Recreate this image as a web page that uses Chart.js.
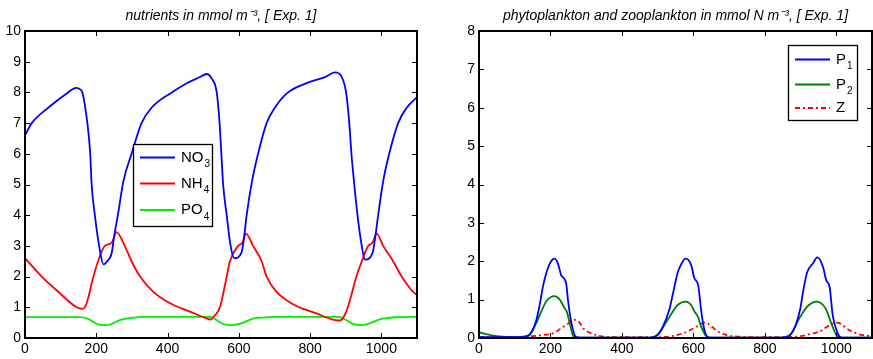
<!DOCTYPE html>
<html>
<head>
<meta charset="utf-8">
<script src="https://cdn.jsdelivr.net/npm/chart.js@4.4.0/dist/chart.umd.min.js"></script>
<style>
  html, body { margin: 0; padding: 0; background: #fff; overflow: hidden; }
  #wrap { position: relative; width: 873px; height: 359px; }
  canvas { position: absolute; top: 0; }
  #cNut { left: 0; }
  #cPlk { left: 440px; }
</style>
</head>
<body>
<div id="wrap">
  <canvas id="cNut" width="440" height="359"></canvas>
  <canvas id="cPlk" width="433" height="359"></canvas>
</div>
<script>
// ---- data (day, mmol m-3) ----
var no3Days = [0, 19, 65, 121, 143, 155, 161, 175, 183, 187, 196, 208, 220, 234, 243, 250, 262, 276, 299, 327, 355, 412, 454, 491, 510, 524, 538, 546, 551, 556, 566, 577, 587, 608, 615, 622, 637, 654, 678, 701, 738, 790, 842, 870, 889, 901, 910, 916, 924, 933, 945, 954, 976, 983, 991, 1005, 1022, 1047, 1071, 1100];
var no3Vals = [6.6, 7.0, 7.5, 8.0, 8.15, 8.1, 8.0, 7.0, 6.0, 5.0, 4.0, 3.0, 2.4, 2.55, 2.75, 3.3, 4.1, 5.1, 6.0, 7.0, 7.5, 8.0, 8.3, 8.5, 8.6, 8.45, 8.0, 7.0, 6.0, 5.0, 4.0, 3.0, 2.6, 2.8, 3.3, 4.0, 5.1, 6.0, 7.0, 7.5, 8.0, 8.3, 8.5, 8.65, 8.5, 8.0, 7.0, 6.0, 5.0, 4.0, 3.0, 2.55, 2.8, 3.3, 4.0, 5.1, 6.0, 7.0, 7.5, 7.85];

var nh4Days = [0, 47, 94, 145, 161, 172, 192, 205, 224, 243, 257, 281, 299, 323, 360, 407, 463, 514, 521, 530, 547, 566, 575, 598, 610, 620, 640, 664, 678, 706, 752, 818, 864, 884, 895, 906, 930, 945, 963, 975, 987, 1005, 1033, 1057, 1089, 1100];
var nh4Vals = [2.6, 2.0, 1.5, 1.0, 0.95, 1.1, 2.0, 2.5, 3.0, 3.1, 3.45, 2.97, 2.5, 2.0, 1.5, 1.13, 0.86, 0.62, 0.6, 0.7, 1.0, 2.0, 2.5, 3.0, 3.1, 3.4, 3.0, 2.5, 2.0, 1.5, 1.1, 0.8, 0.6, 0.57, 0.7, 1.0, 2.0, 2.5, 3.0, 3.1, 3.4, 3.0, 2.5, 2.0, 1.5, 1.4];

var po4Days = [0, 155, 175, 195, 210, 225, 240, 255, 270, 290, 330, 519, 538, 560, 580, 595, 613, 640, 678, 700, 880, 902, 925, 945, 958, 973, 1000, 1052, 1100];
var po4Vals = [0.68, 0.68, 0.63, 0.5, 0.43, 0.42, 0.44, 0.52, 0.6, 0.64, 0.69, 0.69, 0.58, 0.44, 0.42, 0.44, 0.5, 0.63, 0.67, 0.69, 0.69, 0.58, 0.44, 0.42, 0.44, 0.5, 0.62, 0.68, 0.69];

// ---- data for plankton panel (day, mmol N m-3) ----
var p1Days = [0, 100, 130, 141, 160, 169, 179, 188, 198, 211, 221, 230, 244, 249, 259, 271, 285, 480, 500, 515, 533, 543, 556, 566, 578, 594, 603, 613, 622, 631, 641, 650, 845, 871, 885, 899, 907, 918, 935, 947, 963, 972, 981, 990, 1005, 1015, 1100];
var p1Vals = [0.02, 0.02, 0.03, 0.08, 0.45, 0.82, 1.34, 1.68, 1.94, 2.07, 1.94, 1.64, 1.42, 0.99, 0.38, 0.03, 0.01, 0.01, 0.08, 0.3, 0.75, 1.16, 1.7, 1.92, 2.07, 1.9, 1.55, 1.4, 0.7, 0.2, 0.02, 0.01, 0.01, 0.08, 0.3, 0.75, 1.2, 1.7, 1.95, 2.1, 1.85, 1.5, 1.35, 0.6, 0.1, 0.01, 0.01];

var p2Days = [0, 20, 50, 100, 141, 160, 174, 188, 211, 226, 240, 246, 254, 264, 275, 480, 500, 533, 556, 578, 594, 603, 613, 622, 638, 650, 860, 871, 899, 918, 935, 947, 963, 972, 986, 1000, 1015, 1100];
var p2Vals = [0.15, 0.1, 0.05, 0.02, 0.08, 0.38, 0.68, 0.95, 1.09, 1.0, 0.77, 0.68, 0.38, 0.05, 0.01, 0.01, 0.08, 0.55, 0.86, 0.95, 0.86, 0.69, 0.55, 0.29, 0.03, 0.01, 0.01, 0.08, 0.55, 0.81, 0.93, 0.95, 0.86, 0.73, 0.38, 0.08, 0.01, 0.01];

var zDays = [0, 50, 100, 150, 180, 206, 234, 253, 267, 280, 292, 320, 357, 420, 500, 540, 570, 590, 607, 620, 634, 645, 664, 692, 739, 800, 860, 900, 935, 960, 972, 985, 998, 1010, 1037, 1070, 1100];
var zVals = [0.03, 0.02, 0.02, 0.05, 0.08, 0.12, 0.28, 0.4, 0.47, 0.42, 0.25, 0.1, 0.03, 0.02, 0.02, 0.05, 0.12, 0.2, 0.28, 0.36, 0.4, 0.35, 0.2, 0.08, 0.03, 0.02, 0.02, 0.05, 0.12, 0.2, 0.28, 0.35, 0.4, 0.38, 0.2, 0.08, 0.05];

var nutNames = ['NO₃', 'NH₄', 'PO₄'];
var plkNames = ['P₁', 'P₂', 'Z'];
var nutTitle = 'nutrients in mmol m⁻³, [ Exp. 1]';
var plkTitle = 'phytoplankton and zooplankton in mmol N m⁻³, [ Exp. 1]';

var FONT = '"Liberation Sans", Arial, Helvetica, sans-serif';
Chart.defaults.font.family = FONT;
Chart.defaults.font.size = 14;
Chart.defaults.color = '#000';

function pts(xs, ys) {
  return xs.map(function (x, i) { return { x: x, y: ys[i] }; });
}

function line(label, xs, ys, color, dash) {
  return {
    label: label,
    data: pts(xs, ys),
    borderColor: color,
    backgroundColor: color,
    borderWidth: 1.8,
    borderDash: dash || [],
    pointRadius: 0,
    tension: 0.3,
    cubicInterpolationMode: 'monotone',
    fill: false
  };
}

// box round the axes plus inward ticks on all four sides, like matlab
var framePlugin = {
  id: 'frame',
  afterDatasetsDraw: function (chart) {
    var ctx = chart.ctx, a = chart.chartArea;
    var sx = chart.scales.x, sy = chart.scales.y;
    var L = Math.round(a.left), R = Math.round(a.right);
    var T = Math.round(a.top), B = Math.round(a.bottom);
    ctx.save();
    ctx.strokeStyle = '#000';
    ctx.lineWidth = 1;
    ctx.beginPath();
    sx.ticks.forEach(function (t) {
      var px = Math.round(sx.getPixelForValue(t.value)) + 0.5;
      ctx.moveTo(px, B); ctx.lineTo(px, B - 5);
      ctx.moveTo(px, T); ctx.lineTo(px, T + 5);
    });
    sy.ticks.forEach(function (t) {
      var py = Math.round(sy.getPixelForValue(t.value)) + 0.5;
      ctx.moveTo(L, py); ctx.lineTo(L + 5, py);
      ctx.moveTo(R, py); ctx.lineTo(R - 5, py);
    });
    ctx.stroke();
    ctx.lineWidth = 2;
    ctx.strokeRect(L, T, R - L, B - T);
    ctx.restore();
  }
};

// text with trailing subscript digit drawn smaller and lower
var SUBS = '₀₁₂₃₄₅₆₇₈₉';
function drawLabel(ctx, text, x, y) {
  var main = '', sub = '';
  for (var i = 0; i < text.length; i++) {
    var k = SUBS.indexOf(text[i]);
    if (k >= 0) sub += String(k); else main += text[i];
  }
  ctx.font = '15px ' + FONT;
  ctx.fillText(main, x, y);
  if (sub) {
    var w = ctx.measureText(main).width;
    ctx.font = '10px ' + FONT;
    ctx.fillText(sub, x + w + 1, y + 7);
  }
}

// legend box placed inside the axes (offsets from chart area top-left)
var boxLegend = {
  id: 'boxLegend',
  afterDraw: function (chart, args, opts) {
    var ctx = chart.ctx, a = chart.chartArea;
    var x0 = a.left + opts.x, y0 = a.top + opts.y;
    ctx.save();
    ctx.fillStyle = '#fff';
    ctx.fillRect(x0, y0, opts.w, opts.h);
    ctx.strokeStyle = '#000';
    ctx.lineWidth = 1.3;
    ctx.strokeRect(Math.round(x0) + 0.5, Math.round(y0) + 0.5, opts.w, opts.h);
    chart.data.datasets.forEach(function (ds, i) {
      var y = y0 + opts.rows[i];
      ctx.strokeStyle = ds.borderColor;
      ctx.lineWidth = 1.8;
      ctx.setLineDash(ds.borderDash);
      ctx.beginPath();
      ctx.moveTo(x0 + 7, y);
      ctx.lineTo(x0 + 42, y);
      ctx.stroke();
      ctx.setLineDash([]);
      ctx.fillStyle = '#000';
      ctx.textBaseline = 'middle';
      drawLabel(ctx, ds.label, x0 + 48, y);
    });
    ctx.restore();
  }
};

function makeOptions(title, ymax, yWidth, padRight, legendPos) {
  return {
    responsive: false,
    animation: false,
    devicePixelRatio: 1,
    layout: { padding: { left: 0, right: padRight, top: 0, bottom: 0 } },
    plugins: {
      legend: { display: false },
      tooltip: { enabled: false },
      title: {
        display: true,
        text: title,
        fullSize: false,
        color: '#000',
        font: { family: FONT, size: 14, style: 'italic', weight: 'normal' },
        padding: { top: 7.5, bottom: 6.7 }
      },
      boxLegend: legendPos
    },
    scales: {
      x: {
        type: 'linear',
        min: 0, max: 1100,
        grid: { display: false, drawTicks: false },
        border: { display: false },
        ticks: { stepSize: 200, includeBounds: false, padding: 3, maxRotation: 0, color: '#000', format: { useGrouping: false } },
        afterFit: function (s) { s.height = 21; }
      },
      y: {
        type: 'linear',
        min: 0, max: ymax,
        grid: { display: false, drawTicks: false },
        border: { display: false },
        ticks: { stepSize: 1, padding: 4, color: '#000' },
        afterFit: function (s) { s.width = yWidth; }
      }
    }
  };
}

new Chart(document.getElementById('cNut'), {
  type: 'line',
  data: {
    datasets: [
      line(nutNames[0], no3Days, no3Vals, '#0000ff'),
      line(nutNames[1], nh4Days, nh4Vals, '#ff0000'),
      line(nutNames[2], po4Days, po4Vals, '#00ee00')
    ]
  },
  options: makeOptions(nutTitle, 10, 25, 23, { x: 108, y: 113, w: 79, h: 82, rows: [13.5, 39.5, 66] }),
  plugins: [framePlugin, boxLegend]
});

new Chart(document.getElementById('cPlk'), {
  type: 'line',
  data: {
    datasets: [
      line(plkNames[0], p1Days, p1Vals, '#0000ff'),
      line(plkNames[1], p2Days, p2Vals, '#008000'),
      line(plkNames[2], zDays, zVals, '#ff0000', [5, 3, 2, 3])
    ]
  },
  options: makeOptions(plkTitle, 8, 39, 1, { x: 309, y: 14, w: 69, h: 75, rows: [14.5, 39.5, 63] }),
  plugins: [framePlugin, boxLegend]
});
</script>
</body>
</html>
